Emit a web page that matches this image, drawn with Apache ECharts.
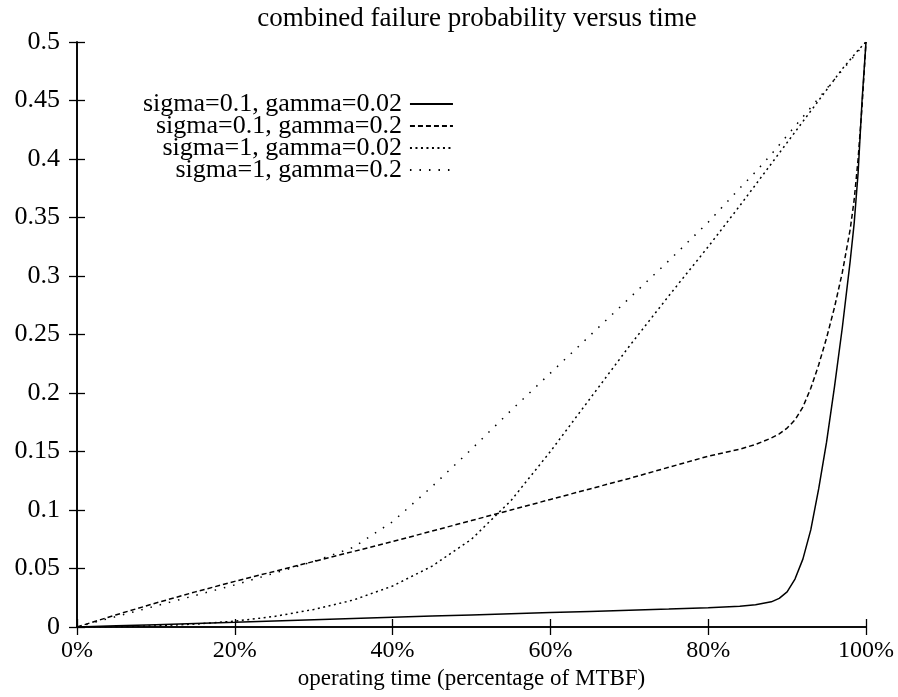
<!DOCTYPE html>
<html>
<head>
<meta charset="utf-8">
<script src="https://cdn.jsdelivr.net/npm/echarts@6/dist/echarts.min.js"></script>
<style>
  html, body { margin: 0; padding: 0; background: #fff; }
  #chart { width: 898px; height: 697px; }
</style>
</head>
<body>
<div id="chart"></div>
<script>
// operating time, % of MTBF (shared sample points)
const timePct = [0, 5, 10, 15, 20, 25, 30, 35, 40, 45, 50, 55, 60, 65, 70, 75, 80, 84, 86, 88, 89, 90, 91, 92, 93, 94, 95, 96, 97, 98, 98.5, 99, 99.5, 100];

// sigma=0.1, gamma=0.02
const s01g002 = [0, 0.001, 0.002, 0.003, 0.004, 0.0051, 0.0062, 0.0072, 0.0083, 0.0093, 0.0103, 0.0113, 0.0123, 0.0133, 0.0143, 0.0153, 0.0165, 0.0177, 0.019, 0.0215, 0.0245, 0.03, 0.041, 0.058, 0.083, 0.118, 0.158, 0.205, 0.256, 0.313, 0.345, 0.388, 0.45, 0.5];
// sigma=0.1, gamma=0.2
const s01g02 = [0, 0.0105, 0.0205, 0.03, 0.039, 0.0475, 0.056, 0.0645, 0.073, 0.082, 0.091, 0.1, 0.109, 0.118, 0.127, 0.1365, 0.146, 0.152, 0.156, 0.1615, 0.165, 0.17, 0.177, 0.188, 0.204, 0.224, 0.247, 0.273, 0.303, 0.34, 0.365, 0.4, 0.445, 0.5];
// sigma=1, gamma=0.02
const s1g002 = [0, 0.0002, 0.001, 0.0025, 0.005, 0.009, 0.015, 0.023, 0.035, 0.052, 0.075, 0.108, 0.15, 0.195, 0.24, 0.283, 0.325, 0.36, 0.378, 0.396, 0.405, 0.414, 0.423, 0.432, 0.441, 0.45, 0.459, 0.468, 0.477, 0.485, 0.489, 0.493, 0.4965, 0.5];
// sigma=1, gamma=0.2
const s1g02 = [0, 0.009, 0.018, 0.027, 0.036, 0.046, 0.056, 0.068, 0.09, 0.12, 0.152, 0.185, 0.217, 0.249, 0.281, 0.313, 0.346, 0.375, 0.389, 0.404, 0.412, 0.42, 0.428, 0.436, 0.444, 0.452, 0.46, 0.468, 0.476, 0.484, 0.488, 0.492, 0.496, 0.5];

const seriesNames = ['sigma=0.1, gamma=0.02', 'sigma=0.1, gamma=0.2', 'sigma=1, gamma=0.02', 'sigma=1, gamma=0.2'];
const seriesValues = [s01g002, s01g02, s1g002, s1g02];
const dashStyles = ['solid', [5, 3], [2, 3.5], [1.5, 8]];

const FONT = 'Liberation Serif';

const chart = echarts.init(document.getElementById('chart'), null, { renderer: 'canvas' });

// frame: bottom/left carry labels, top/right only mirror the ticks
const axisCommon = {
    type: 'value',
    axisLine: { show: true, lineStyle: { color: '#000', width: 1.6 } },
    axisTick: { show: true, inside: true, length: 8, lineStyle: { color: '#000', width: 1.3 } },
    splitLine: { show: false }
};

const option = {
    animation: false,
    backgroundColor: '#fff',
    title: {
        text: 'combined failure probability versus time',
        left: 472,
        textAlign: 'center',
        top: 0,
        textStyle: { fontFamily: FONT, fontSize: 27, fontWeight: 'normal', color: '#000' }
    },
    legend: {
        orient: 'vertical',
        left: 138,
        top: 86,
        align: 'right',
        itemWidth: 43,
        itemHeight: 12,
        itemGap: -4,
        selectedMode: false,
        itemStyle: { opacity: 0 },
        data: seriesNames,
        formatter: name => `{t|${name}}`,
        textStyle: {
            color: '#000',
            rich: {
                t: { fontFamily: FONT, fontSize: 26, width: 300, align: 'right', padding: [0, 3, 0, 0], color: '#000' }
            }
        }
    },
    grid: { left: 77, right: 32, top: 42, bottom: 70, containLabel: false },
    xAxis: [
        Object.assign({}, axisCommon, {
            position: 'bottom',
            min: 0, max: 100, interval: 20,
            name: 'operating time (percentage of MTBF)',
            nameLocation: 'middle',
            nameGap: 34,
            nameTextStyle: { fontFamily: FONT, fontSize: 23, color: '#000' },
            axisLabel: { formatter: '{value}%', margin: 12, fontFamily: FONT, fontSize: 24, color: '#000' }
        }),
        Object.assign({}, axisCommon, {
            position: 'top',
            min: 0, max: 100, interval: 20,
            axisLabel: { show: false }
        })
    ],
    yAxis: [
        Object.assign({}, axisCommon, {
            position: 'left',
            min: 0, max: 0.5, interval: 0.05,
            axisLabel: { margin: 17, fontFamily: FONT, fontSize: 26, color: '#000' }
        }),
        Object.assign({}, axisCommon, {
            position: 'right',
            min: 0, max: 0.5, interval: 0.05,
            axisLabel: { show: false }
        })
    ],
    series: seriesNames.map((name, i) => ({
        name: name,
        type: 'line',
        xAxisIndex: 0,
        yAxisIndex: 0,
        symbol: 'none',
        lineStyle: { color: '#000', width: 1.5, type: dashStyles[i] },
        itemStyle: { color: '#000' },
        data: timePct.map((t, k) => [t, seriesValues[i][k]])
    }))
};

chart.setOption(option);
</script>
</body>
</html>
